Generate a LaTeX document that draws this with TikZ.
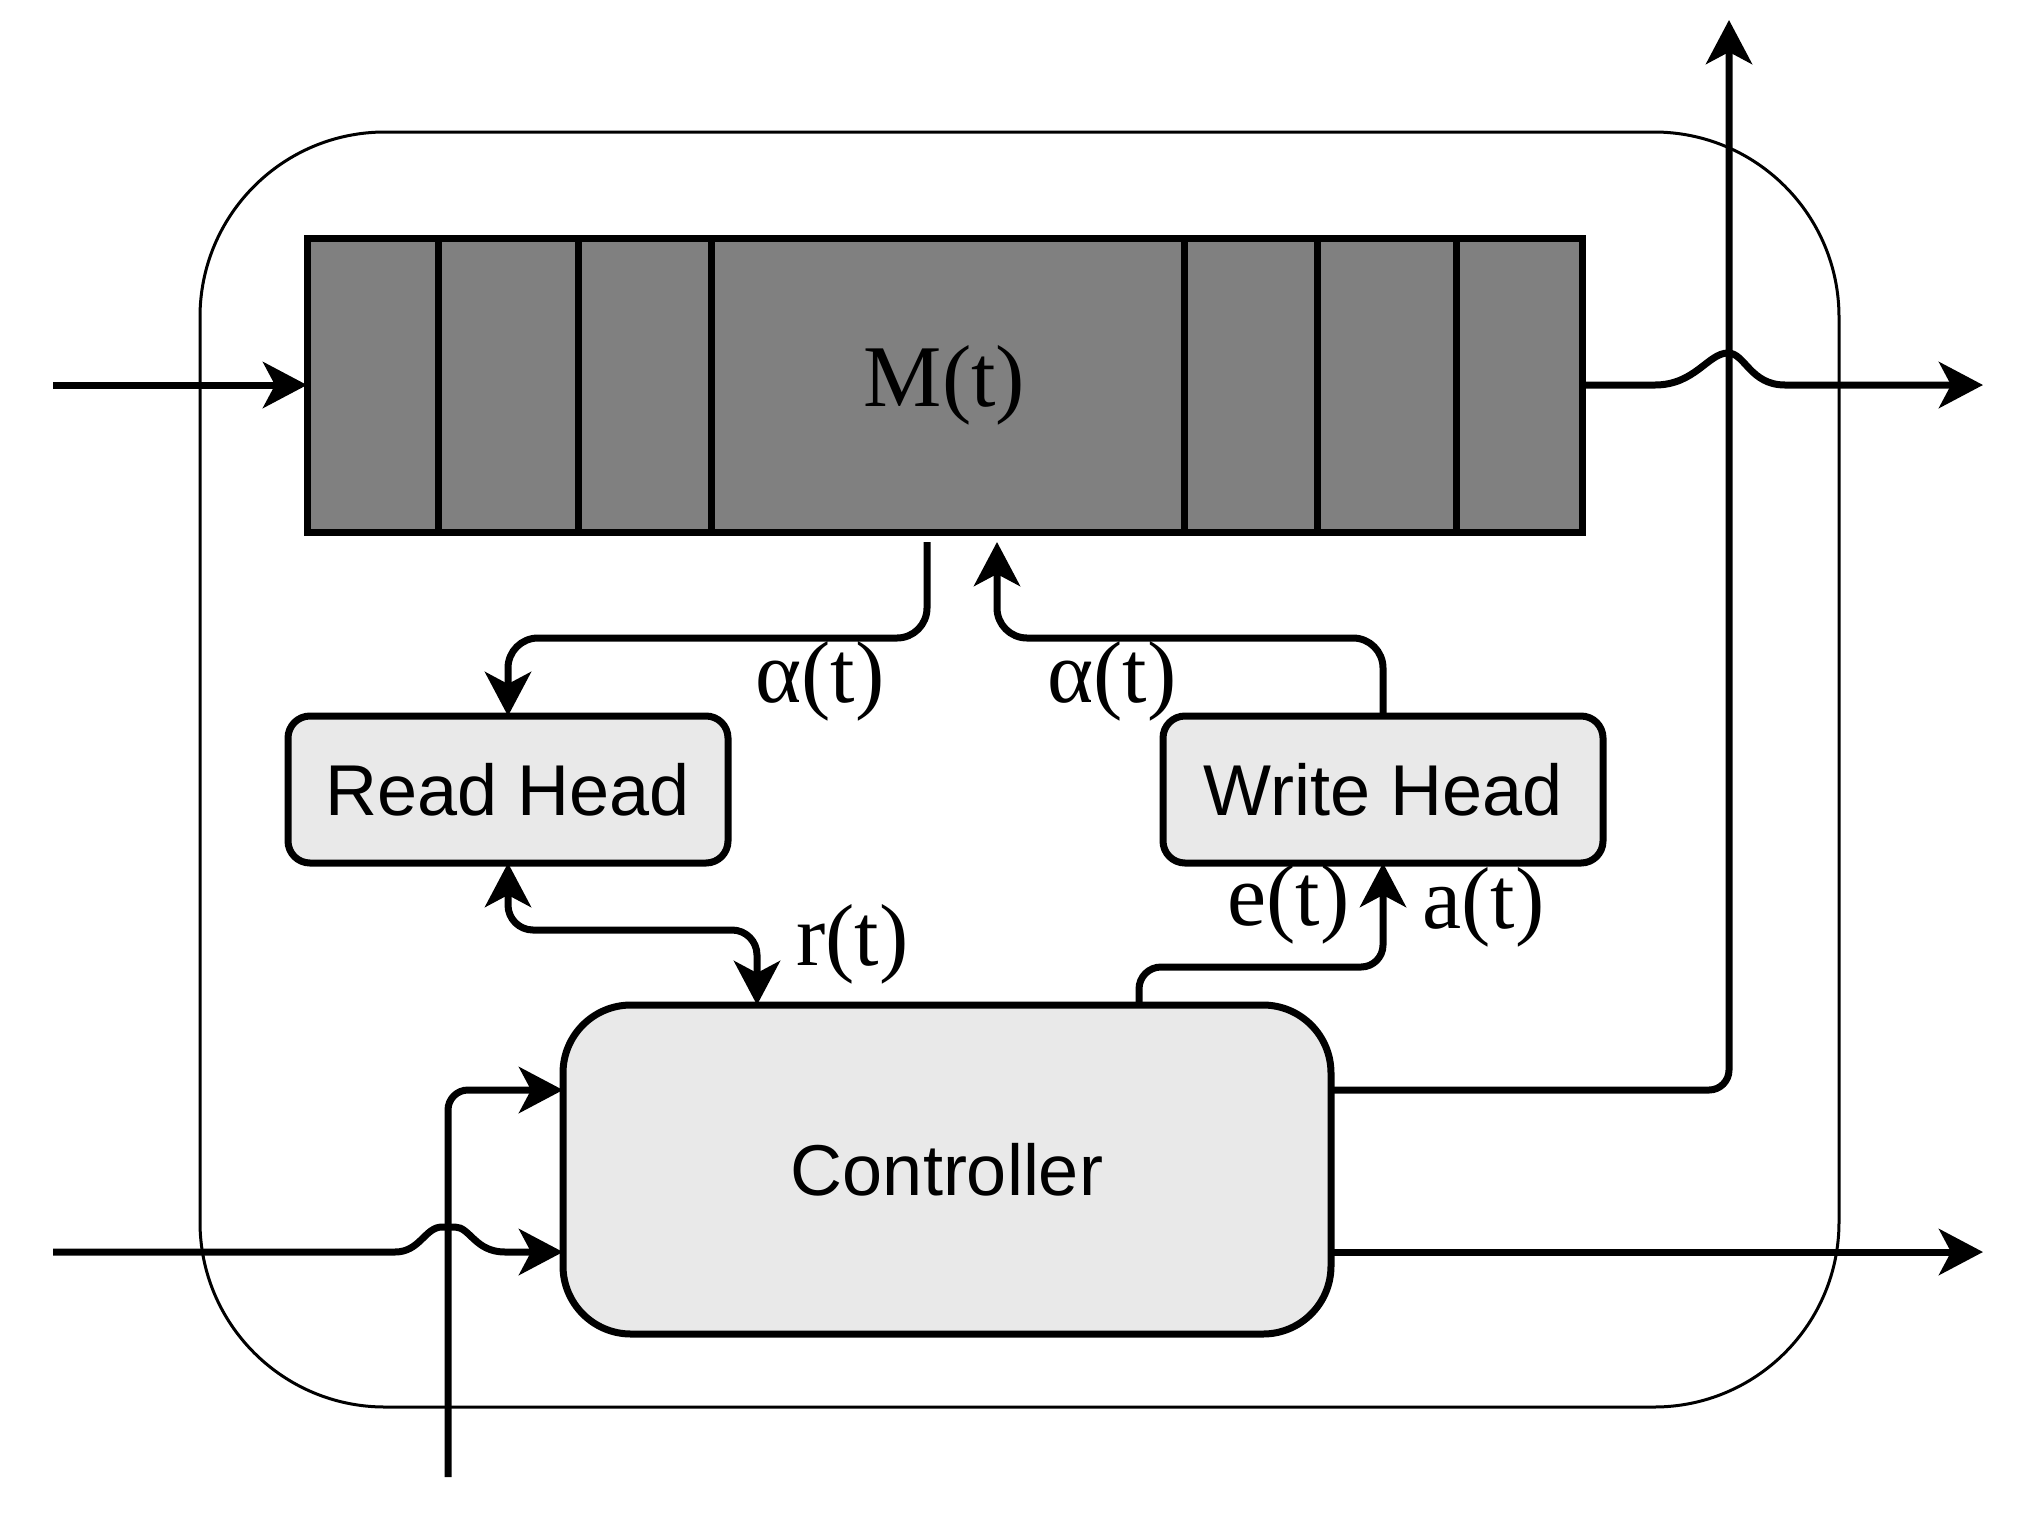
\documentclass[tikz,border=0pt]{standalone}
\usepackage{fontspec}
\setmainfont{Liberation Serif}
\setsansfont{Liberation Sans}
\usetikzlibrary{arrows.meta}
\definecolor{memgray}{HTML}{808080}
\definecolor{boxgray}{HTML}{E9E9E9}
\begin{document}
\begin{tikzpicture}[x=1pt,y=-1pt,
  thickline/.style={line width=7pt},
  arr/.style={thickline,-{Stealth[length=44pt,width=46pt,inset=12pt]}},
  arrboth/.style={thickline,{Stealth[length=44pt,width=46pt,inset=12pt]}-{Stealth[length=44pt,width=46pt,inset=12pt]}},
  headbox/.style={draw,line width=7pt,fill=boxgray,inner sep=0pt,outer sep=0pt,font=\sffamily\fontsize{72pt}{80pt}\selectfont},
  lab/.style={inner sep=0pt,anchor=base west,font=\rmfamily\fontsize{88pt}{100pt}\selectfont}
]
\useasboundingbox (0,0) rectangle (2034,1516);
% outer frame
\node[draw,line width=3pt,minimum width=1639pt,minimum height=1275pt,rounded corners=185pt,inner sep=0pt,outer sep=0pt] (outer) at (1019.5,769.5) {};
% memory
\node[draw,line width=7pt,fill=memgray,minimum width=1275pt,minimum height=294pt,inner sep=0pt,outer sep=0pt,font=\rmfamily\fontsize{88pt}{100pt}\selectfont] (mem) at (944.5,385) {M(t)};
\foreach \x in {438,578,711,1184,1317,1456}
  \draw[thickline] (\x,0 |- mem.north) -- (\x,0 |- mem.south);
% heads and controller
\node[headbox,rounded corners=22pt,minimum width=440pt,minimum height=147pt] (rh) at (508,789.5) {Read Head};
\node[headbox,rounded corners=22pt,minimum width=440pt,minimum height=147pt] (wh) at (1383,789.5) {Write Head};
\node[headbox,rounded corners=68pt,minimum width=768pt,minimum height=329pt] (ctrl) at (947,1169.5) {Controller};
% coordinates
\coordinate (inM) at (53,385);
\coordinate (outM) at (1983,385);
\coordinate (rdS) at (927,542);
\coordinate (rdC) at (508,638);
\coordinate (wrE) at (997,542);
\coordinate (wrC) at (997,638);
\coordinate (rC) at (757,930);
\coordinate (eS) at (1139,967);
\coordinate (yU) at (0,1090);
\coordinate (inC) at (53,1252);
\coordinate (vB) at (448,1477);
\coordinate (upT) at (1729,20);
\coordinate (outC) at (1983,1252);
% memory input / output
\draw[arr] (inM) -- (mem.west);
\draw[arr] (mem.east) -- (1655,385) .. controls (1695,385) and (1708,353) .. (1728,353) .. controls (1745,353) and (1750,385) .. (1785,385) -- (outM);
% read / write weightings
\draw[arr,rounded corners=30pt] (rdS) |- (rdC) -- (rh.north);
\draw[arr,rounded corners=30pt] (wh.north) |- (wrC) -- (wrE);
% r(t)
\draw[arrboth,rounded corners=25pt] (rh.south) |- (rC) -- (rC |- ctrl.north);
% e(t), a(t)
\draw[arr,rounded corners=22pt] (eS |- ctrl.north) |- (wh.south |- eS) -- (wh.south);
% controller inputs
\draw[arr] (inC) -- (395,1252) .. controls (420,1252) and (425,1227) .. (442,1227) -- (455,1227) .. controls (470,1227) and (475,1252) .. (505,1252) -- (ctrl.west |- inC);
\draw[arr,rounded corners=20pt] (vB) |- (ctrl.west |- yU);
% controller outputs
\draw[arr,rounded corners=20pt] (ctrl.east |- yU) -| (upT);
\draw[arr] (ctrl.east |- inC) -- (outC);
% labels
\node[lab] (lal) at (755,702) {α(t)};
\node[lab] (lar) at (1047,702) {α(t)};
\node[lab] (lr) at (796,965) {r(t)};
\node[lab] (le) at (1227,925) {e(t)};
\node[lab] (la) at (1422,928) {a(t)};
\end{tikzpicture}
\end{document}
